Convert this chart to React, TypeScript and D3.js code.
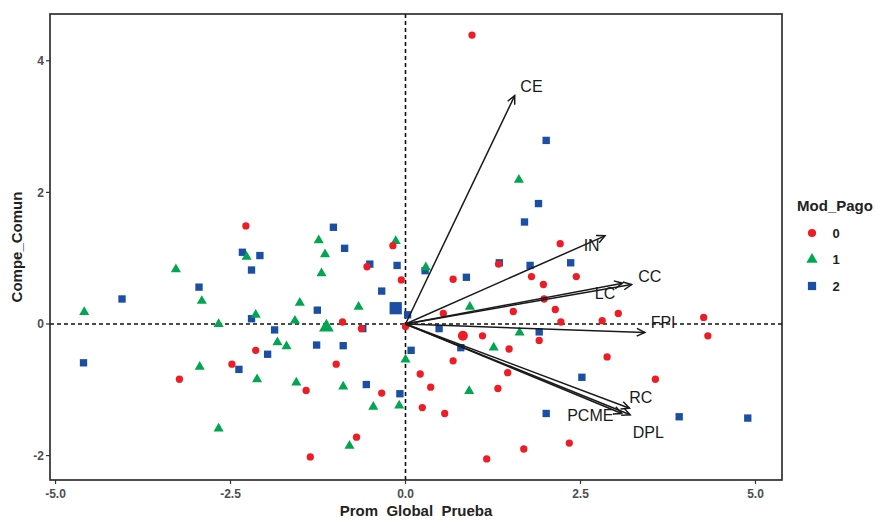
import React from 'react';
import * as d3 from 'd3';

// observed points per Mod_Pago group, [Prom_Global_Prueba, Compe_Comun]
const group0 = [
  [0.95, 4.39], [-2.28, 1.49], [-0.18, 1.19], [-0.55, 0.87], [-0.06, 0.67], [-0.90, 0.03],
  [-0.63, -0.07], [0.00, -0.04], [-2.14, -0.40], [-2.48, -0.61], [-3.23, -0.84], [-0.99, -0.61],
  [-1.42, -1.01], [-0.34, -1.05], [-0.70, -1.72], [-1.36, -2.02], [0.21, -0.76], [0.36, -0.96],
  [0.24, -1.27], [1.33, 0.91], [0.68, 0.68], [1.80, 0.72], [1.97, 0.60], [2.44, 0.72],
  [1.98, 0.38], [1.54, 0.19], [2.14, 0.22], [3.04, 0.16], [0.54, 0.16], [2.22, 0.03],
  [2.81, 0.05], [4.26, 0.10], [4.32, -0.18], [1.10, -0.18], [1.91, -0.25], [1.48, -0.38],
  [2.88, -0.50], [0.68, -0.56], [1.46, -0.74], [1.32, -0.98], [3.57, -0.84], [0.56, -1.36],
  [2.34, -1.81], [1.69, -1.90], [1.16, -2.05], [2.21, 1.22],
];
const group1 = [
  [1.62, 2.19], [-1.24, 1.27], [-1.15, 1.06], [-0.14, 1.26], [-2.27, 1.02], [-3.28, 0.83],
  [-1.20, 0.77], [-2.91, 0.35], [-1.51, 0.32], [-0.67, 0.26], [-4.59, 0.18], [-2.14, 0.14],
  [-1.58, 0.05], [-2.67, 0.00], [-1.83, -0.28], [-1.70, -0.34], [-2.94, -0.65], [-2.12, -0.84],
  [-1.56, -0.89], [-0.89, -0.95], [-0.46, -1.26], [-0.09, -1.24], [0.00, -0.54], [-2.67, -1.59],
  [-0.80, -1.85], [0.29, 0.86], [0.92, 0.26], [1.63, -0.13], [1.26, -0.36], [0.91, -1.02],
];
const group2 = [
  [2.01, 2.79], [1.90, 1.83], [1.70, 1.55], [-1.03, 1.47], [-0.87, 1.15], [-2.33, 1.09],
  [-2.08, 1.04], [-2.20, 0.82], [-0.51, 0.91], [-0.12, 0.89], [-2.95, 0.56], [-4.05, 0.38],
  [-0.34, 0.50], [-1.26, 0.21], [-2.20, 0.08], [0.03, 0.14], [-1.87, -0.09], [-0.61, -0.07],
  [-1.27, -0.32], [-0.89, -0.33], [-1.97, -0.46], [0.08, -0.40], [-4.60, -0.59], [-2.38, -0.69],
  [-0.56, -0.92], [-0.08, -1.06], [1.34, 0.93], [1.78, 0.89], [2.36, 0.93], [0.87, 0.71],
  [0.48, -0.07], [1.91, -0.12], [0.79, -0.36], [2.52, -0.81], [2.01, -1.36], [3.91, -1.41],
  [4.89, -1.43], [0.28, 0.81],
];

// group means (bigger markers)
const groupLevels = ['0', '1', '2'];
const groupMeans = [[0.82, -0.18], [-1.13, -0.05], [-0.14, 0.24]];

// variable loadings (arrows) and their label positions
const varNames = ['CE', 'IN', 'CC', 'LC', 'FPI', 'RC', 'DPL', 'PCME'];
const varX = [1.56, 2.85, 3.23, 3.10, 3.42, 3.20, 3.21, 3.09];
const varY = [3.47, 1.34, 0.60, 0.62, -0.13, -1.28, -1.38, -1.36];
const labelX = [1.80, 2.66, 3.49, 2.85, 3.68, 3.36, 3.47, 2.64];
const labelY = [3.61, 1.19, 0.72, 0.47, 0.03, -1.12, -1.64, -1.39];

const xTicks = [-5, -2.5, 0, 2.5, 5];
const yTicks = [-2, 0, 2, 4];

const W = 876, H = 521;
const panel = {left: 50, right: 782, top: 14, bottom: 480};
const colors = ['#ee1d25', '#00a650', '#1a4fa3'];
const shapes = [d3.symbolCircle, d3.symbolTriangle, d3.symbolSquare];
const sizes = [42, 44, 54];
const bigSizes = [78, 95, 150];
const font = 'Liberation Sans, Arial, Helvetica, sans-serif';

const App = () => {
  const x = d3.scaleLinear().domain([-5.079, 5.379]).range([panel.left, panel.right]);
  const y = d3.scaleLinear().domain([-2.371, 4.711]).range([panel.bottom, panel.top]);
  const groups = [group0, group1, group2];
  const drawOrder = [2, 1, 0];
  const midX = (panel.left + panel.right) / 2, midY = (panel.top + panel.bottom) / 2;

  const sym = (g, size) => d3.symbol().type(shapes[g]).size(size)();

  const arrowHead = (x1, y1) => {
    const x0 = x(0), y0 = y(0);
    const ang = Math.atan2(y1 - y0, x1 - x0);
    const len = 9, spread = Math.PI / 7;
    const a = [x1 - len * Math.cos(ang - spread), y1 - len * Math.sin(ang - spread)];
    const b = [x1 - len * Math.cos(ang + spread), y1 - len * Math.sin(ang + spread)];
    return `M${a[0]},${a[1]}L${x1},${y1}L${b[0]},${b[1]}`;
  };

  return (
    <svg width={W} height={H} style={{position: 'absolute', left: 0, top: 0}} fontFamily={font}>
      <rect width={W} height={H} fill="#fff"/>

      {/* reference lines */}
      <line x1={panel.left} x2={panel.right} y1={y(0)} y2={y(0)} stroke="#111" strokeWidth={1.6} strokeDasharray="4,3"/>
      <line x1={x(0)} x2={x(0)} y1={panel.top} y2={panel.bottom} stroke="#111" strokeWidth={1.6} strokeDasharray="4,3"/>

      {/* points */}
      {drawOrder.map(g => groups[g].map((d, i) => (
        <path key={g + '-' + i} d={sym(g, sizes[g])} transform={`translate(${x(d[0])},${y(d[1])})`} fill={colors[g]}/>
      )))}
      {drawOrder.map(g => (
        <path key={'m' + g} d={sym(g, bigSizes[g])} transform={`translate(${x(groupMeans[g][0])},${y(groupMeans[g][1])})`} fill={colors[g]}/>
      ))}

      {/* loading arrows */}
      {varNames.map((v, i) => (
        <g key={v} stroke="#1a1a1a" strokeWidth={1.5} fill="none">
          <line x1={x(0)} y1={y(0)} x2={x(varX[i])} y2={y(varY[i])}/>
          <path d={arrowHead(x(varX[i]), y(varY[i]))}/>
        </g>
      ))}
      {varNames.map((v, i) => (
        <text key={'t' + v} x={x(labelX[i])} y={y(labelY[i])} dy="0.36em" textAnchor="middle"
              fontSize={16} fill="#1a1a1a">{v}</text>
      ))}

      {/* panel border */}
      <rect x={panel.left} y={panel.top} width={panel.right - panel.left} height={panel.bottom - panel.top}
            fill="none" stroke="#222" strokeWidth={1.6}/>

      {/* axes */}
      {xTicks.map(t => (
        <g key={'x' + t}>
          <line x1={x(t)} x2={x(t)} y1={panel.bottom} y2={panel.bottom + 4} stroke="#333" strokeWidth={1.2}/>
          <text x={x(t)} y={panel.bottom + 14} dy="0.36em" textAnchor="middle" fontSize={12} fontWeight="bold" fill="#4d4d4d">
            {d3.format('.1f')(t).replace('−', '-')}
          </text>
        </g>
      ))}
      {yTicks.map(t => (
        <g key={'y' + t}>
          <line x1={panel.left - 4} x2={panel.left} y1={y(t)} y2={y(t)} stroke="#333" strokeWidth={1.2}/>
          <text x={panel.left - 6} y={y(t)} dy="0.36em" textAnchor="end" fontSize={12} fontWeight="bold" fill="#4d4d4d">{t}</text>
        </g>
      ))}
      <text x={midX} y={511} dy="0.36em" textAnchor="middle" fontSize={15} fontWeight="bold" fill="#222"
            style={{whiteSpace: 'pre'}}>{'Prom  Global  Prueba'}</text>
      <text transform={`translate(17,${midY}) rotate(-90)`} dy="0.36em" textAnchor="middle"
            fontSize={15} fontWeight="bold" fill="#222">Compe_Comun</text>

      {/* legend */}
      <text x={797} y={206} dy="0.36em" fontSize={15} fontWeight="bold" fill="#222">Mod_Pago</text>
      {groupLevels.map((l, g) => (
        <g key={'l' + l} transform={`translate(0,${233 + g * 26.5})`}>
          <path d={sym(g, sizes[g] * 1.25)} transform="translate(812,0)" fill={colors[g]}/>
          <text x={836} dy="0.36em" textAnchor="middle" fontSize={13} fontWeight="bold" fill="#222">{l}</text>
        </g>
      ))}
    </svg>
  );
};

export default App;
